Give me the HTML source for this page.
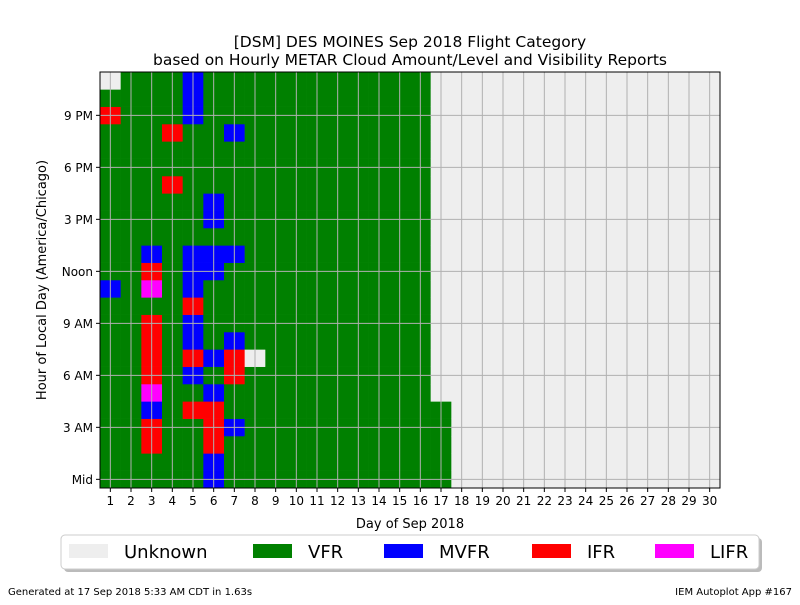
<!DOCTYPE html>
<html><head><meta charset="utf-8"><style>
body{margin:0;background:#fff;}
svg text{font-family:"DejaVu Sans","Liberation Sans",sans-serif;}
</style></head><body>
<svg id="chart" width="800" height="600" xmlns="http://www.w3.org/2000/svg">
<text x="410" y="47" font-size="15.5" text-anchor="middle">[DSM] DES MOINES Sep 2018 Flight Category</text>
<text x="410" y="65" font-size="15.5" text-anchor="middle">based on Hourly METAR Cloud Amount/Level and Visibility Reports</text>
<g id="cells"></g>
<g id="grid"></g>
<rect x="100" y="72" width="620" height="416" fill="none" stroke="#000" stroke-width="1"/>
<g id="xaxis"></g>
<g id="yaxis"></g>
<text x="410" y="528" font-size="13" text-anchor="middle">Day of Sep 2018</text>
<text transform="translate(46,280) rotate(-90)" font-size="13" text-anchor="middle">Hour of Local Day (America/Chicago)</text>
<g>
<rect x="64" y="538" width="698" height="34" rx="4" fill="#bbb"/>
<rect x="61" y="535" width="698" height="34" rx="4" fill="#fff" stroke="#ccc"/>
<g id="legend"></g>
</g>
<text x="8" y="595" font-size="10">Generated at 17 Sep 2018 5:33 AM CDT in 1.63s</text>
<text x="792" y="595" font-size="10" text-anchor="end">IEM Autoplot App #167</text>
</svg>
<script>
const days = [1,2,3,4,5,6,7,8,9,10,11,12,13,14,15,16,17,18,19,20,21,22,23,24,25,26,27,28,29,30];
const V24 = "VVVVVVVVVVVVVVVVVVVVVVVV", U24 = "UUUUUUUUUUUUUUUUUUUUUUUU";
// per-day category string, index = hour 0..23
const dayCodes = [
 "VVVVVVVVVVVMVVVVVVVVVIVU",
 V24,
 "VVIIMLIIIIVLIMVVVVVVVVVV",
 "VVVVVVVVVVVVVVVVVIVVIVVV",
 "VVVVIVMIMMIMMMVVVVVVVMMM",
 "MMIIIMVMVVVVMMVMMVVVVVVV",
 "VVVMVVIIMVVVVMVVVVVVMVVV",
 "VVVVVVVUVVVVVVVVVVVVVVVV",
 V24,V24,V24,V24,V24,V24,V24,V24,
 "VVVVVUUUUUUUUUUUUUUUUUUU",
 U24,U24,U24,U24,U24,U24,U24,U24,U24,U24,U24,U24,U24
];
const catKeys = ["U","V","M","I","L"];
const catLabels = ["Unknown","VFR","MVFR","IFR","LIFR"];
const catColors = ["#eeeeee","#008000","#0000ff","#ff0000","#ff00ff"];
const yTickHours = [0,3,6,9,12,15,18,21];
const yTickLabels = ["Mid","3 AM","6 AM","9 AM","Noon","3 PM","6 PM","9 PM"];

const NS="http://www.w3.org/2000/svg";
const X0=100,X1=720,Y0=72,Y1=488;
const dw=(X1-X0)/days.length, hh=(Y1-Y0)/24;
const xLeft=i=>X0+i*dw, xC=d=>X0+(d-0.5)*dw;
const yTop=h=>Y1-(h+1)*hh, yC=h=>Y1-(h+0.5)*hh;
function mk(tag,attrs,parent){const e=document.createElementNS(NS,tag);for(const k in attrs)e.setAttribute(k,attrs[k]);parent.appendChild(e);return e;}
const cells=document.getElementById('cells');
dayCodes.forEach((s,i)=>{for(let h=0;h<24;h++){const c=catKeys.indexOf(s[h]);
 const r=mk('rect',{x:xLeft(i),y:yTop(h),width:dw+0.3,height:hh+0.3,fill:catColors[c]},cells);
 
 }});
const grid=document.getElementById('grid'),xa=document.getElementById('xaxis'),ya=document.getElementById('yaxis');
days.forEach(d=>{const x=xC(d);
 const l=mk('line',{x1:x,x2:x,y1:Y0,y2:Y1,stroke:'#b0b0b0','stroke-width':1},grid);
 
 
 mk('line',{x1:x,x2:x,y1:Y1,y2:Y1+4,stroke:'#000'},xa);
 const t=mk('text',{x:x,y:Y1+17,'font-size':12,'text-anchor':'middle'},xa);t.textContent=d;
 
 });
yTickHours.forEach((h,i)=>{const y=yC(h);
 const l=mk('line',{x1:X0,x2:X1,y1:y,y2:y,stroke:'#b0b0b0','stroke-width':1},grid);
 
 
 mk('line',{x1:X0-4,x2:X0,y1:y,y2:y,stroke:'#000'},ya);
 const t=mk('text',{x:X0-7,y:y+4.5,'font-size':12,'text-anchor':'end'},ya);t.textContent=yTickLabels[i];
 
 });
const lg=document.getElementById('legend');
const lx=[69,253,384,532,655];
catLabels.forEach((lab,i)=>{
 const r=mk('rect',{x:lx[i],y:544,width:39,height:14,fill:catColors[i]},lg);
 
 
 const t=mk('text',{x:lx[i]+55,y:558,'font-size':18},lg);t.textContent=lab;
 
 });
</script>
</body></html>
